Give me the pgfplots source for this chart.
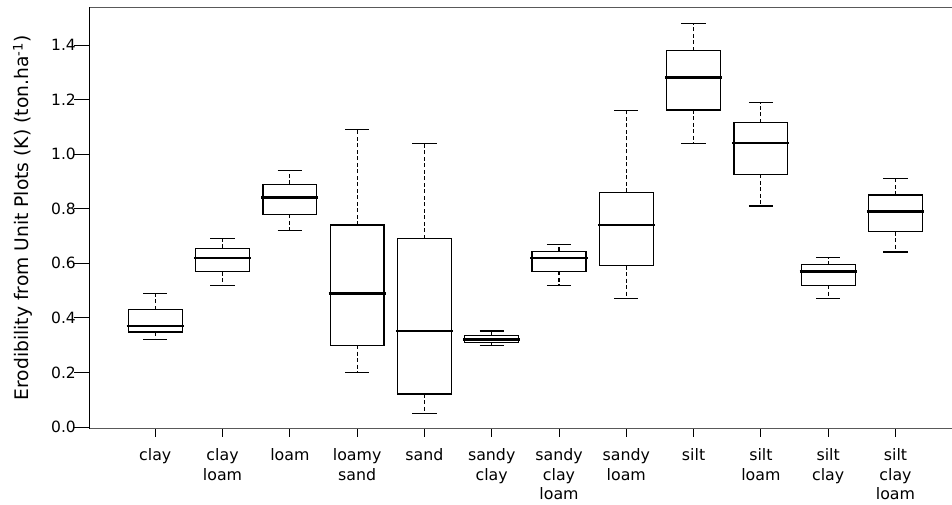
\documentclass[border=0pt]{standalone}
\usepackage{pgfplots}
\pgfplotsset{compat=1.18}
\usepgfplotslibrary{statistics}
\usepackage{fontspec}
\setmainfont{DejaVu Sans}

\begin{document}
\fontsize{15.8}{19.3}\selectfont
\begin{tikzpicture}
\begin{axis}[
  at={(0,0)}, anchor=south west,
  scale only axis, width=862.7pt, height=421.2pt,
  xmin=0.02, xmax=12.84, ymin=-0.0055, ymax=1.538,
  axis x line=box, axis y line=left,
  axis line style={-},
  x axis line style={gray!70!black, line width=1.2pt},
  y axis line style={black, line width=1.2pt},
  xtick pos=bottom, ytick pos=left,
  tick align=outside,
  major tick length=8pt,
  every y tick/.append style={/pgfplots/major tick length=15pt},
  tick style={black, line width=0.8pt},
  xtick={1,...,12},
  xticklabels={clay, clay\\loam, loam, loamy\\sand, sand, sandy\\clay,
    sandy\\clay\\loam, sandy\\loam, silt, silt\\loam, silt\\clay, silt\\clay\\loam},
  xticklabel style={align=center, anchor=north, yshift=-7pt, font=\fontsize{15.8}{19.3}\selectfont},
  ytick={0,0.2,...,1.4},
  yticklabel style={font=\fontsize{15.5}{19.3}\selectfont,
    /pgf/number format/.cd, fixed, fixed zerofill, precision=1, assume math mode=true},
  ylabel={Erodibility from Unit Plots (K) (ton.ha\textsuperscript{-1})},
  every axis y label/.style={at={(axis description cs:-0.0769,0.5)}, rotate=90, anchor=center,
    font=\fontsize{18.7}{22}\selectfont},
  boxplot/draw direction=y,
  boxplot/box extend=0.8,
  boxplot/whisker extend=0.36,
  boxplot/every box/.style={draw=black, line width=1.2pt, fill=white},
  boxplot/draw/median/.code={
    \draw[line width=2.6pt] (boxplot box cs:\pgfplotsboxplotvalue{median},-0.03)
      -- (boxplot box cs:\pgfplotsboxplotvalue{median},1.03);
  },
  boxplot/draw/lower whisker/.code={
    \draw[line width=1.2pt, dash pattern=on 4pt off 2.5pt]
      (boxplot box cs:\pgfplotsboxplotvalue{lower quartile},0.5)
      -- (boxplot box cs:\pgfplotsboxplotvalue{lower whisker},0.5);
    \draw[line width=1.2pt]
      (boxplot whisker cs:\pgfplotsboxplotvalue{lower whisker},0)
      -- (boxplot whisker cs:\pgfplotsboxplotvalue{lower whisker},1);
  },
  boxplot/draw/upper whisker/.code={
    \draw[line width=1.2pt, dash pattern=on 4pt off 2.5pt]
      (boxplot box cs:\pgfplotsboxplotvalue{upper quartile},0.5)
      -- (boxplot box cs:\pgfplotsboxplotvalue{upper whisker},0.5);
    \draw[line width=1.2pt]
      (boxplot whisker cs:\pgfplotsboxplotvalue{upper whisker},0)
      -- (boxplot whisker cs:\pgfplotsboxplotvalue{upper whisker},1);
  },
]
% draw position, lower whisker, lower quartile, median, upper quartile, upper whisker
\addplot[black, boxplot prepared={draw position=1, lower whisker=0.32, lower quartile=0.348, median=0.37, upper quartile=0.43, upper whisker=0.49}] coordinates {};
\addplot[black, boxplot prepared={draw position=2, lower whisker=0.52, lower quartile=0.569, median=0.62, upper quartile=0.655, upper whisker=0.69}] coordinates {};
\addplot[black, boxplot prepared={draw position=3, lower whisker=0.72, lower quartile=0.779, median=0.84, upper quartile=0.889, upper whisker=0.94}] coordinates {};
\addplot[black, boxplot prepared={draw position=4, lower whisker=0.20, lower quartile=0.30, median=0.49, upper quartile=0.74, upper whisker=1.09}] coordinates {};
\addplot[black, boxplot prepared={draw position=5, lower whisker=0.05, lower quartile=0.121, median=0.352, upper quartile=0.69, upper whisker=1.04}] coordinates {};
\addplot[black, boxplot prepared={draw position=6, lower whisker=0.30, lower quartile=0.311, median=0.321, upper quartile=0.336, upper whisker=0.352}] coordinates {};
\addplot[black, boxplot prepared={draw position=7, lower whisker=0.52, lower quartile=0.57, median=0.62, upper quartile=0.644, upper whisker=0.669}] coordinates {};
\addplot[black, boxplot prepared={draw position=8, lower whisker=0.47, lower quartile=0.591, median=0.74, upper quartile=0.86, upper whisker=1.159}] coordinates {};
\addplot[black, boxplot prepared={draw position=9, lower whisker=1.04, lower quartile=1.162, median=1.28, upper quartile=1.379, upper whisker=1.478}] coordinates {};
\addplot[black, boxplot prepared={draw position=10, lower whisker=0.81, lower quartile=0.926, median=1.04, upper quartile=1.115, upper whisker=1.188}] coordinates {};
\addplot[black, boxplot prepared={draw position=11, lower whisker=0.472, lower quartile=0.52, median=0.57, upper quartile=0.595, upper whisker=0.62}] coordinates {};
\addplot[black, boxplot prepared={draw position=12, lower whisker=0.641, lower quartile=0.716, median=0.79, upper quartile=0.85, upper whisker=0.91}] coordinates {};
\end{axis}
\pgfresetboundingbox
\path[use as bounding box] (-89.3pt,-75.5pt) rectangle (862.7pt,428.5pt);
\end{tikzpicture}
\end{document}
